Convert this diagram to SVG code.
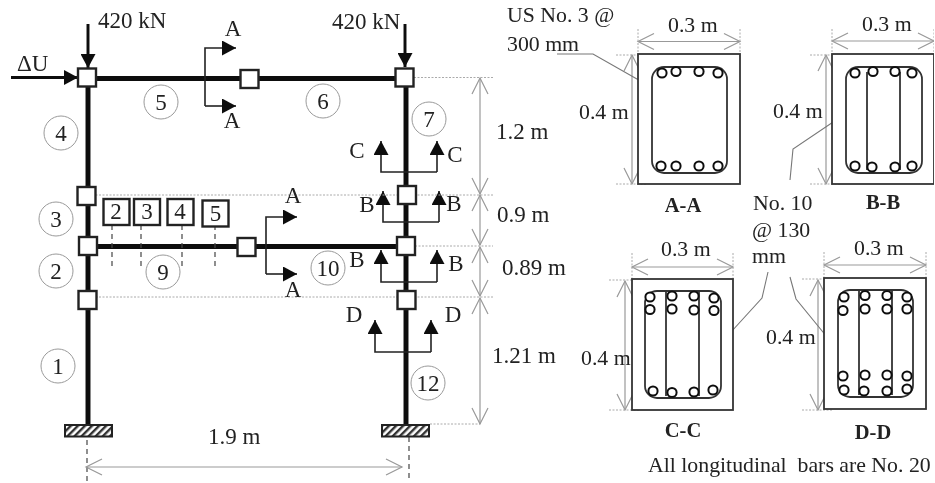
<svg xmlns="http://www.w3.org/2000/svg" width="935" height="483" viewBox="0 0 935 483">
<style>
text{font-family:"Liberation Serif","Times New Roman",serif;fill:#222;white-space:pre}
.f{font-size:23px}
.s{font-size:21.800px}
.b{font-size:20.500px;font-weight:bold;text-anchor:middle}
.m{text-anchor:middle}
.n{fill:#fff;stroke:#222;stroke-width:2.4}
.bm{fill:none;stroke:#111;stroke-width:5}
.c{fill:#fff;stroke:#999;stroke-width:1}
.sec{fill:none;stroke:#222;stroke-width:1.6}
.fa{fill:none;stroke:#111;stroke-width:3}
.dot{fill:none;stroke:#aaa;stroke-width:1;stroke-dasharray:2 1.5}
.dash{fill:none;stroke:#444;stroke-width:1.2;stroke-dasharray:5 4}
.dim{fill:none;stroke:#999;stroke-width:1.2}
.lead{fill:none;stroke:#777;stroke-width:1.1}
.r{fill:#fff;stroke:#333;stroke-width:1.8}
.st{fill:none;stroke:#333;stroke-width:1.8}
.bar{fill:#fff;stroke:#111;stroke-width:2}
.base{fill:url(#h);stroke:#222;stroke-width:2}
</style>
<defs>
<filter id="soft" x="0" y="0" width="100%" height="100%"><feGaussianBlur stdDeviation="0.4"/></filter>
<pattern id="h" width="5" height="5" patternUnits="userSpaceOnUse" patternTransform="rotate(45)"><rect width="5" height="5" fill="#fff"/><rect width="2.400" height="5" fill="#333"/></pattern>
<marker id="ah" markerUnits="userSpaceOnUse" markerWidth="15" markerHeight="15" refX="14" refY="7.500" orient="auto"><path d="M0 0L14 7.500L0 15Z" fill="#111"/></marker>
<marker id="oh" markerUnits="userSpaceOnUse" markerWidth="20" markerHeight="20" refX="17" refY="10" orient="auto-start-reverse"><path d="M1 2L17 10L1 18" fill="none" stroke="#999" stroke-width="1.2"/></marker>
</defs>
<rect width="935" height="483" fill="#fff"/>
<g filter="url(#soft)">
<g id="connectors">
<path class="bm" d="M88 78V425M406 78V425M88 78.500H404M88 246.500H406"/>
<path class="fa" d="M88 24V68" marker-end="url(#ah)"/><path class="fa" d="M405 24V67" marker-end="url(#ah)"/><path class="fa" d="M11 77.500H78" marker-end="url(#ah)"/>
<g class="sec">
<path d="M205 106V48H236" marker-end="url(#ah)"/><path d="M205 106H236" marker-end="url(#ah)"/>
<path d="M266 274V217H297" marker-end="url(#ah)"/><path d="M266 274H297" marker-end="url(#ah)"/>
<path d="M437 172H381V141" marker-end="url(#ah)"/><path d="M437 172V141" marker-end="url(#ah)"/>
<path d="M439 222H383V191" marker-end="url(#ah)"/><path d="M439 222V191" marker-end="url(#ah)"/>
<path d="M437 282H381V250" marker-end="url(#ah)"/><path d="M437 282V250" marker-end="url(#ah)"/>
<path d="M431 352H375V320" marker-end="url(#ah)"/><path d="M431 352V320" marker-end="url(#ah)"/>
</g>
<path class="dot" d="M414 77.500H493M92 195H493M415 246H493M92 297H493M430 424H480"/>
<path class="dash" d="M112 225V268M141 225V268M182 225V268M215 225V268M87 440V483M409 437V480"/>
<g class="dim">
<path d="M480 78V194" marker-start="url(#oh)" marker-end="url(#oh)"/>
<path d="M480 195V245" marker-start="url(#oh)" marker-end="url(#oh)"/>
<path d="M480 247V296" marker-start="url(#oh)" marker-end="url(#oh)"/>
<path d="M480 298V424" marker-start="url(#oh)" marker-end="url(#oh)"/>
<path d="M86 467H402" marker-start="url(#oh)" marker-end="url(#oh)"/>
<path d="M638 41.500H740" marker-start="url(#oh)" marker-end="url(#oh)"/>
<path d="M632 55V184" marker-start="url(#oh)" marker-end="url(#oh)"/>
<path d="M832 41H934" marker-start="url(#oh)" marker-end="url(#oh)"/>
<path d="M826 55V184" marker-start="url(#oh)" marker-end="url(#oh)"/>
<path d="M632 267H733" marker-start="url(#oh)" marker-end="url(#oh)"/>
<path d="M625 281V410" marker-start="url(#oh)" marker-end="url(#oh)"/>
<path d="M824 265H926" marker-start="url(#oh)" marker-end="url(#oh)"/>
<path d="M818 280V410" marker-start="url(#oh)" marker-end="url(#oh)"/>
</g>
<path class="dot" d="M638 29V54M740 29V54M616 55H647M616 184H647M832 29V54M934 29V54M810 55H841M810 184H841M632 253V279M733 253V279M609 280H640M609 410H640M824 252V278M926 252V278M802 279H833M802 410H833"/>
<path class="lead" d="M557 54H593L651 87M848 112L793 149L790 180M768 272L762 298L721 343M790 277L796 299L836 348"/>
</g>
<g id="node-1"><rect class="n" x="78" y="68.500" width="18" height="18"/></g>
<g id="node-2"><rect class="n" x="240.500" y="70" width="18" height="18"/></g>
<g id="node-3"><rect class="n" x="395.500" y="68.500" width="18" height="18"/></g>
<g id="node-4"><rect class="n" x="77.500" y="187" width="18" height="18"/></g>
<g id="node-5"><rect class="n" x="79" y="237" width="18" height="18"/></g>
<g id="node-6"><rect class="n" x="78.500" y="291" width="18" height="18"/></g>
<g id="node-7"><rect class="n" x="237.500" y="238" width="18" height="18"/></g>
<g id="node-8"><rect class="n" x="398" y="186" width="18" height="18"/></g>
<g id="node-9"><rect class="n" x="397" y="237" width="18" height="18"/></g>
<g id="node-10"><rect class="n" x="397.500" y="291" width="18" height="18"/></g>
<g id="support-left"><rect class="base" x="65" y="425" width="47" height="11.500"/></g>
<g id="support-right"><rect class="base" x="382" y="425" width="47" height="11.500"/></g>
<g id="member-5"><circle class="c" cx="161" cy="102" r="17"/><text class="f m" x="161" y="110">5</text></g>
<g id="member-4"><circle class="c" cx="61" cy="133" r="17"/><text class="f m" x="61" y="141">4</text></g>
<g id="member-3"><circle class="c" cx="56" cy="219" r="17"/><text class="f m" x="56" y="227">3</text></g>
<g id="member-2"><circle class="c" cx="56" cy="271" r="17"/><text class="f m" x="56" y="279">2</text></g>
<g id="member-1"><circle class="c" cx="58" cy="366" r="17"/><text class="f m" x="58" y="374">1</text></g>
<g id="member-9"><circle class="c" cx="163" cy="272" r="17"/><text class="f m" x="163" y="280">9</text></g>
<g id="member-6"><circle class="c" cx="323" cy="101" r="17"/><text class="f m" x="323" y="109">6</text></g>
<g id="member-7"><circle class="c" cx="429" cy="119" r="17"/><text class="f m" x="429" y="127">7</text></g>
<g id="member-10"><circle class="c" cx="328" cy="268" r="17"/><text class="f m" x="328" y="276">10</text></g>
<g id="member-12"><circle class="c" cx="428" cy="383" r="17"/><text class="f m" x="428" y="391">12</text></g>
<g id="fiber-2"><rect class="n" x="103.500" y="199" width="26" height="26"/><text class="f m" x="116" y="219">2</text></g>
<g id="fiber-3"><rect class="n" x="134" y="199" width="26" height="26"/><text class="f m" x="147" y="219">3</text></g>
<g id="fiber-4"><rect class="n" x="167.500" y="199" width="26" height="26"/><text class="f m" x="180" y="219">4</text></g>
<g id="fiber-5"><rect class="n" x="202.500" y="200.500" width="26" height="26"/><text class="f m" x="215.500" y="221">5</text></g>
<g id="labels-frame">
<text class="f" x="98" y="28">420 kN</text><text class="f" x="332" y="29">420 kN</text>
<text class="f" x="17" y="71">ΔU</text>
<text class="f m" x="233" y="36">A</text><text class="f m" x="232" y="128">A</text>
<text class="f m" x="293" y="203">A</text><text class="f m" x="293" y="297">A</text>
<text class="f m" x="357" y="158">C</text><text class="f m" x="455" y="162">C</text>
<text class="f m" x="367" y="212">B</text><text class="f m" x="454" y="211">B</text>
<text class="f m" x="357" y="267">B</text><text class="f m" x="456" y="271">B</text>
<text class="f m" x="354" y="322">D</text><text class="f m" x="453" y="322">D</text>
<text class="f" x="496" y="139">1.2 m</text><text class="f" x="497" y="222">0.9 m</text>
<text class="f" x="502" y="275">0.89 m</text><text class="f" x="492" y="363">1.21 m</text>
<text class="f" x="208" y="444">1.9 m</text>
</g>
<g id="section-a-a">
<rect class="r" x="638" y="54" width="102" height="130"/>
<rect class="st" x="652" y="67" width="75" height="106" rx="12"/>
<g class="bar"><circle cx="662" cy="73" r="4.600"/><circle cx="676" cy="71.500" r="4.600"/><circle cx="699" cy="71.500" r="4.600"/><circle cx="718" cy="73" r="4.600"/><circle cx="661" cy="166" r="4.600"/><circle cx="676" cy="166" r="4.600"/><circle cx="699" cy="166" r="4.600"/><circle cx="718" cy="166" r="4.600"/></g>
<text class="s" x="668" y="32">0.3 m</text><text class="s" x="579" y="119">0.4 m</text><text class="b" x="683" y="212">A-A</text>
</g>
<g id="section-b-b">
<rect class="r" x="832" y="54" width="102" height="130"/>
<rect class="st" x="846" y="67" width="76" height="106" rx="12"/><path class="st" d="M867 72V170M900 72V170"/>
<g class="bar"><circle cx="855" cy="73" r="4.600"/><circle cx="873" cy="71.500" r="4.600"/><circle cx="895" cy="71.500" r="4.600"/><circle cx="912" cy="73" r="4.600"/><circle cx="855" cy="166" r="4.600"/><circle cx="872" cy="167" r="4.600"/><circle cx="895" cy="167" r="4.600"/><circle cx="912" cy="166" r="4.600"/></g>
<text class="s" x="862" y="31">0.3 m</text><text class="s" x="773" y="118">0.4 m</text><text class="b" x="883" y="209">B-B</text>
</g>
<g id="section-c-c">
<rect class="r" x="632" y="279" width="101" height="131"/>
<rect class="st" x="645" y="291" width="76" height="107" rx="12"/><path class="st" d="M666 292V396M699 292V396"/>
<g class="bar"><circle cx="650" cy="297" r="4.600"/><circle cx="672" cy="296" r="4.600"/><circle cx="694" cy="296" r="4.600"/><circle cx="714" cy="298" r="4.600"/><circle cx="650" cy="309.500" r="4.600"/><circle cx="672" cy="309" r="4.600"/><circle cx="694" cy="310" r="4.600"/><circle cx="714" cy="310.500" r="4.600"/><circle cx="653" cy="391" r="4.600"/><circle cx="672" cy="392.500" r="4.600"/><circle cx="694" cy="392" r="4.600"/><circle cx="713" cy="390" r="4.600"/></g>
<text class="s" x="661" y="256">0.3 m</text><text class="s" x="581" y="365">0.4 m</text><text class="b" x="683" y="437">C-C</text>
</g>
<g id="section-d-d">
<rect class="r" x="824" y="278" width="102" height="131"/>
<rect class="st" x="838" y="290" width="75" height="107" rx="12"/><path class="st" d="M859 291V395M892 291V395"/>
<g class="bar"><circle cx="844" cy="297" r="4.600"/><circle cx="865" cy="295.500" r="4.600"/><circle cx="887" cy="295.500" r="4.600"/><circle cx="907" cy="297" r="4.600"/><circle cx="843" cy="310.500" r="4.600"/><circle cx="865" cy="309" r="4.600"/><circle cx="887" cy="309" r="4.600"/><circle cx="907" cy="309" r="4.600"/><circle cx="843" cy="376" r="4.600"/><circle cx="865" cy="375" r="4.600"/><circle cx="887" cy="375" r="4.600"/><circle cx="907" cy="376" r="4.600"/><circle cx="844" cy="390" r="4.600"/><circle cx="864" cy="391" r="4.600"/><circle cx="887" cy="391" r="4.600"/><circle cx="907" cy="389" r="4.600"/></g>
<text class="s" x="854" y="255">0.3 m</text><text class="s" x="766" y="344">0.4 m</text><text class="b" x="873" y="439">D-D</text>
</g>
<g id="notes">
<text class="s" x="507" y="22">US No. 3 @</text><text class="s" x="507" y="51">300 mm</text>
<text class="s" x="753" y="210">No. 10</text><text class="s" x="752" y="237">@ 130</text><text class="s" x="752" y="263">mm</text>
<text class="s" x="648" y="472">All longitudinal  bars are No. 20</text>
</g>
</g>
</svg>
